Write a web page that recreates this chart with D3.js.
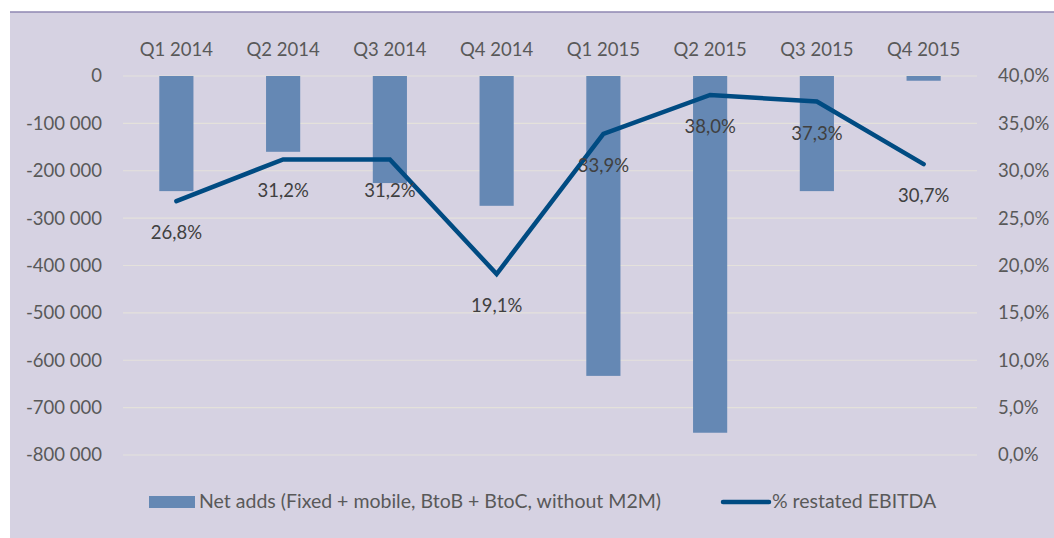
<!DOCTYPE html>
<html>
<head>
<meta charset="utf-8">
<script src="https://cdn.jsdelivr.net/npm/d3@7"></script>
<style>
  body { margin: 0; background: #fff; }
  svg text { font-family: Lato, "Liberation Sans", sans-serif; fill: #595959; }
</style>
</head>
<body>
<svg id="graph" width="1054" height="538"></svg>
<script>
// chart data
var quarters = ["Q1 2014", "Q2 2014", "Q3 2014", "Q4 2014", "Q1 2015", "Q2 2015", "Q3 2015", "Q4 2015"];
var netAdds = [-243000, -160000, -226000, -274000, -633000, -753000, -243000, -10000];
var ebitda = [26.8, 31.2, 31.2, 19.1, 33.9, 38.0, 37.3, 30.7];
var leftTicks = [0, -100000, -200000, -300000, -400000, -500000, -600000, -700000, -800000];
var rightTicks = [0, 5, 10, 15, 20, 25, 30, 35, 40];
var legendLabels = ["Net adds (Fixed + mobile, BtoB + BtoC, without M2M)", "% restated EBITDA"];

var svg = d3.select("#graph");

// panel background
svg.append("rect")
    .attr("x", 10)
    .attr("y", 12)
    .attr("width", 1044)
    .attr("height", 526)
    .attr("fill", "#d6d2e2");
svg.append("line")
    .attr("x1", 10).attr("x2", 1054)
    .attr("y1", 12).attr("y2", 12)
    .attr("stroke", "#8f87b2")
    .attr("stroke-width", 1.5);

var x = d3.scaleBand()
    .domain(quarters)
    .range([123, 977])
    .paddingInner(0.68)
    .paddingOuter(0.34);

var y = d3.scaleLinear()
    .domain([-800000, 0])
    .range([455, 76]);

var y2 = d3.scaleLinear()
    .domain([0, 40])
    .range([455, 76]);

// gridlines
svg.append("g")
    .selectAll("line")
    .data(leftTicks)
    .enter()
    .append("line")
    .attr("x1", 123)
    .attr("x2", 977)
    .attr("y1", function(d) { return y(d); })
    .attr("y2", function(d) { return y(d); })
    .attr("stroke", "#e4e1db")
    .attr("stroke-width", 1.2);

var fmtLeft = function(d) { return d3.format(",")(d).replace(/,/g, " ").replace("−", "-"); };
var fmtRight = function(d) { return d3.format(".1f")(d).replace(".", ",") + "%"; };

var fs = "18.5px";

var leftAxis = svg.append("g")
    .attr("transform", "translate(123,0)")
    .call(d3.axisLeft(y).tickValues(leftTicks).tickFormat(fmtLeft).tickSize(0).tickPadding(21));
leftAxis.select(".domain").remove();
leftAxis.selectAll("text").style("font-size", fs).style("fill", "#595959").attr("font-family", null);

var rightAxis = svg.append("g")
    .attr("transform", "translate(977,0)")
    .call(d3.axisRight(y2).tickValues(rightTicks).tickFormat(fmtRight).tickSize(0).tickPadding(21));
rightAxis.select(".domain").remove();
rightAxis.selectAll("text").style("font-size", fs).style("fill", "#595959").attr("font-family", null);

var topAxis = svg.append("g")
    .attr("transform", "translate(0,56)")
    .call(d3.axisTop(x).tickSize(0).tickPadding(0));
topAxis.select(".domain").remove();
topAxis.selectAll("text").style("font-size", fs).style("fill", "#595959").attr("font-family", null);

// bars
svg.append("g")
    .selectAll("rect")
    .data(netAdds)
    .enter()
    .append("rect")
    .attr("x", function(d, i) { return x(quarters[i]); })
    .attr("y", y(0))
    .attr("width", x.bandwidth())
    .attr("height", function(d) { return y(d) - y(0); })
    .attr("fill", "#6588b4");

// line
var line = d3.line()
    .x(function(d, i) { return x(quarters[i]) + x.bandwidth() / 2; })
    .y(function(d) { return y2(d); });

svg.append("path")
    .datum(ebitda)
    .attr("d", line)
    .attr("fill", "none")
    .attr("stroke", "#004b82")
    .attr("stroke-width", 4.5)
    .attr("stroke-linecap", "round")
    .attr("stroke-linejoin", "miter");

// line labels
svg.append("g")
    .selectAll("text")
    .data(ebitda)
    .enter()
    .append("text")
    .attr("x", function(d, i) { return x(quarters[i]) + x.bandwidth() / 2; })
    .attr("y", function(d) { return y2(d) + 38; })
    .attr("text-anchor", "middle")
    .style("font-size", fs)
    .style("fill", "#404040")
    .text(fmtRight);

// legend
var legend = svg.append("g");
legend.append("rect")
    .attr("x", 149).attr("y", 496)
    .attr("width", 46).attr("height", 12)
    .attr("fill", "#6588b4");
legend.append("text")
    .attr("x", 199).attr("y", 508)
    .style("font-size", "19.5px")
    .text(legendLabels[0]);
legend.append("line")
    .attr("x1", 723).attr("x2", 769)
    .attr("y1", 502).attr("y2", 502)
    .attr("stroke", "#004b82")
    .attr("stroke-width", 4.5)
    .attr("stroke-linecap", "round");
legend.append("text")
    .attr("x", 772).attr("y", 508)
    .style("font-size", "19.5px")
    .text(legendLabels[1]);
</script>
</body>
</html>
